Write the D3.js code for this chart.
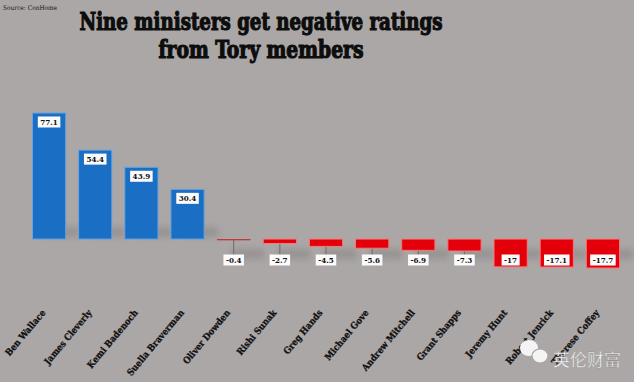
<!DOCTYPE html>
<html><head><meta charset="utf-8">
<script src="https://cdn.jsdelivr.net/npm/d3@7"></script>
<style>
html,body{margin:0;padding:0;background:#aba7a6;}
svg{display:block;}
</style></head>
<body>
<script>
const names = ["Ben Wallace","James Cleverly","Kemi Badenoch","Suella Braverman","Oliver Dowden","Rishi Sunak","Greg Hands","Michael Gove","Andrew Mitchell","Grant Shapps","Jeremy Hunt","Robert Jenrick","Therese Coffey"];
const ratings = [77.1,54.4,43.9,30.4,-0.4,-2.7,-4.5,-5.6,-6.9,-7.3,-17,-17.1,-17.7];
const valueLabels = ["77.1","54.4","43.9","30.4","-0.4","-2.7","-4.5","-5.6","-6.9","-7.3","-17","-17.1","-17.7"];
const titleLines = ["Nine ministers get negative ratings","from Tory members"];
const sourceText = "Source: ConHome";
const watermark = "英伦财富";

const W = 634, H = 382;
const SERIF = "'DejaVu Serif Condensed', 'DejaVu Serif', serif";
const svg = d3.select("body").append("svg").attr("width", W).attr("height", H);
svg.append("rect").attr("width", W).attr("height", H).attr("fill", "#aba7a6");

const defs = svg.append("defs");
const f = defs.append("filter").attr("id","shadow").attr("x","-50%").attr("y","-50%").attr("width","200%").attr("height","200%");
f.append("feGaussianBlur").attr("stdDeviation", 3);

const x = d3.scaleBand().domain(names).range([26, 626]).paddingInner(0.28).paddingOuter(0.14);
const y = d3.scaleLinear().domain([-17.7, 77.1]).range([268, 113]);
const y0 = y(0);
const data = names.map((n, i) => ({name: n, v: ratings[i], label: valueLabels[i]}));

// shadows
svg.append("g").selectAll("rect").data(data).join("rect")
  .attr("x", d => x(d.name) + 14)
  .attr("y", d => d.v >= 0 ? y0 - 12 : y0 + 10)
  .attr("width", x.bandwidth())
  .attr("height", 10)
  .attr("fill", "#8a8685").attr("opacity", 0.6)
  .attr("filter", "url(#shadow)");

// stems for negative labels
const labelY = 260;
svg.append("g").selectAll("line").data(data.filter(d => d.v < 0 && y(d.v) < labelY - 6)).join("line")
  .attr("x1", d => x(d.name) + x.bandwidth()/2)
  .attr("x2", d => x(d.name) + x.bandwidth()/2)
  .attr("y1", d => y(d.v))
  .attr("y2", labelY - 5)
  .attr("stroke", "#6e6a6a").attr("stroke-width", 1);

// bars
svg.append("g").selectAll("rect").data(data).join("rect")
  .attr("x", d => x(d.name))
  .attr("y", d => Math.min(y(d.v), y0))
  .attr("width", x.bandwidth())
  .attr("height", d => Math.max(1, Math.abs(y(d.v) - y0)))
  .attr("fill", d => d.v >= 0 ? "#1a6ec4" : "#e4000b")
  .attr("stroke", d => d.v >= 0 ? "#6aa4de" : (Math.abs(d.v) < 1 ? "none" : "#f27a7a"))
  .attr("stroke-width", 1);
svg.append("g").selectAll("line").data(data.filter(d => Math.abs(d.v) < 1)).join("line")
  .attr("x1", d => x(d.name)).attr("x2", d => x(d.name) + x.bandwidth())
  .attr("y1", y0 + 0.5).attr("y2", y0 + 0.5)
  .attr("stroke", "#c0393b").attr("stroke-width", 1.2);

// value labels
const lg = svg.append("g").selectAll("g").data(data).join("g")
  .attr("transform", d => `translate(${x(d.name) + x.bandwidth()/2},${d.v >= 0 ? y(d.v) + 9 : labelY})`);
lg.append("text")
  .attr("text-anchor", "middle").attr("dy", "0.35em")
  .attr("font-family", SERIF).attr("font-weight", "bold").attr("font-size", 8)
  .attr("fill", "#111")
  .text(d => d.label)
  .each(function() {
    const b = this.getBBox();
    d3.select(this.parentNode).insert("rect", "text")
      .attr("x", b.x - 2.5).attr("y", -5.5).attr("width", b.width + 5).attr("height", 11)
      .attr("fill", "#fbfbfb");
  });

// category labels
svg.append("g").selectAll("text").data(data).join("text")
  .attr("transform", d => `translate(${x(d.name) + x.bandwidth()/2 - 3},${313}) rotate(-50)`)
  .attr("text-anchor", "end")
  .attr("font-family", SERIF).attr("font-weight", "bold").attr("font-size", 9.2)
  .attr("fill", "#111").attr("stroke", "#111").attr("stroke-width", 0.3)
  .text(d => d.name);

// title
const tW = [363, 205];
const tY = [30, 58];
titleLines.forEach((t, i) => {
  svg.append("text")
    .attr("x", 261).attr("y", tY[i])
    .attr("text-anchor", "middle")
    .attr("font-family", SERIF).attr("font-weight", "bold").attr("font-size", 24)
    .attr("textLength", tW[i]).attr("lengthAdjust", "spacingAndGlyphs")
    .attr("fill", "#0d0d0d").attr("stroke", "#0d0d0d").attr("stroke-width", 1.1)
    .text(t);
});

// source
svg.append("text").attr("x", 3).attr("y", 10)
  .attr("font-family", SERIF).attr("font-size", 6.5).attr("fill", "#111")
  .text(sourceText);

// watermark
const wm = svg.append("g");
wm.append("ellipse").attr("cx", 529).attr("cy", 348).attr("rx", 9).attr("ry", 8).attr("fill", "#f4f4f4");
wm.append("ellipse").attr("cx", 540).attr("cy", 356).attr("rx", 8).attr("ry", 7).attr("fill", "#f4f4f4").attr("stroke", "#aba7a6").attr("stroke-width", 1.2);
wm.append("text").attr("x", 553).attr("y", 366)
  .attr("font-family", "'Noto Sans CJK SC', sans-serif").attr("font-size", 17)
  .attr("fill", "#f6f6f6").attr("stroke", "#8a8685").attr("stroke-width", 0.3)
  .text(watermark);
</script>
</body></html>
